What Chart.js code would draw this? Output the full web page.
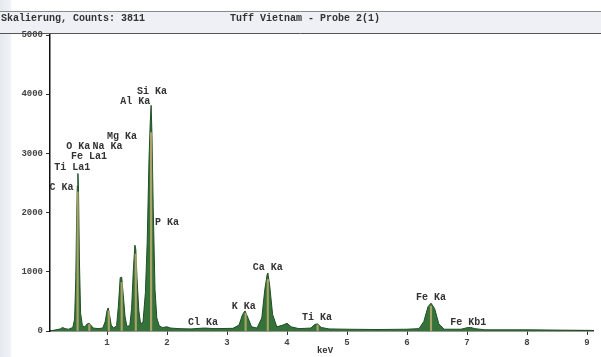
<!DOCTYPE html>
<html><head><meta charset="utf-8">
<script src="https://cdn.jsdelivr.net/npm/chart.js@4/dist/chart.umd.min.js"></script>
<style>
html,body{margin:0;padding:0;background:#fff;}
#wrap{position:relative;width:601px;height:357px;background:linear-gradient(to right,#e6eaf0 0,#eef1f5 10px,#fff 12px);}
canvas{position:absolute;left:0;top:0;}
</style></head><body>
<div id="wrap"><canvas id="c" width="601" height="357"></canvas></div>
<script>
const titleLeft = "Skalierung, Counts: 3811";
const titleCenter = "Tuff Vietnam - Probe 2(1)";
const xTitle = "keV";
const xTicks = [1,2,3,4,5,6,7,8,9];
const yTicks = [0,1000,2000,3000,4000,5000];
// spectrum: energy (keV) and counts
const energy = [0.05,0.15,0.22,0.26,0.30,0.36,0.43,0.46,0.48,0.495,0.505,0.515,0.525,0.54,0.56,0.59,0.63,0.67,0.70,0.73,0.77,0.85,0.93,0.97,1.00,1.02,1.04,1.07,1.11,1.16,1.19,1.22,1.245,1.27,1.30,1.33,1.38,1.41,1.44,1.465,1.48,1.50,1.53,1.56,1.60,1.64,1.67,1.70,1.72,1.735,1.75,1.77,1.80,1.83,1.87,1.92,2.00,2.06,2.20,2.40,2.62,2.80,3.10,3.20,3.26,3.30,3.35,3.41,3.50,3.58,3.63,3.67,3.68,3.71,3.76,3.83,3.93,4.00,4.07,4.20,4.40,4.46,4.51,4.57,4.70,5.00,5.50,6.00,6.20,6.28,6.35,6.40,6.46,6.53,6.62,6.90,7.00,7.06,7.13,7.30,8.00,8.50,9.10];
const counts = [0,20,35,60,40,30,60,200,900,2000,2450,2660,2400,1200,300,90,70,120,130,100,50,40,50,160,340,390,290,100,50,90,420,900,910,620,250,80,90,380,1050,1450,1380,900,350,120,150,650,1500,2900,3500,3811,3300,2100,700,220,90,60,70,50,40,35,50,40,45,100,280,340,220,70,50,220,700,960,980,780,280,70,100,130,70,40,50,110,120,60,35,30,25,30,40,160,410,470,380,120,30,30,55,60,40,20,20,15,10];
// peak marker lines (element lines)
const markerE = [0.51,0.705,1.03,1.245,1.48,1.735,3.31,3.68,4.51,6.40];
const markerC = [2350,110,340,820,1300,3350,300,870,100,420];
// peak labels
const peakLabels = ["Si Ka","Al Ka","Mg Ka","O Ka","Na Ka","Fe La1","Ti La1","C Ka","P Ka","Cl Ka","K Ka","Ca Ka","Ti Ka","Fe Ka","Fe Kb1"];
const labelE = [1.50,1.22,1.00,0.32,0.76,0.40,0.12,0.04,1.80,2.35,3.08,3.43,4.25,6.15,6.72];
const labelC = [4050,3870,3290,3120,3120,2940,2770,2420,1840,150,420,1080,220,570,140];

const MONO = "bold 10px 'Liberation Mono', 'DejaVu Sans Mono', monospace";
const decor = {
  id:'decor',
  beforeDraw(chart){
    const ctx = chart.ctx;
    ctx.save();
    ctx.fillStyle = '#eef0f6';
    ctx.fillRect(0,11,601,22);
    ctx.strokeStyle = '#8a8a8a';
    ctx.lineWidth = 1;
    ctx.beginPath(); ctx.moveTo(0,11.5); ctx.lineTo(601,11.5); ctx.stroke();
    ctx.strokeStyle = '#555';
    ctx.beginPath(); ctx.moveTo(0,33.5); ctx.lineTo(601,33.5); ctx.stroke();
    ctx.fillStyle = '#333';
    ctx.font = MONO;
    ctx.textBaseline = 'middle';
    ctx.textAlign = 'left';
    ctx.fillText(titleLeft, 1, 18);
    ctx.fillText(titleCenter, 230, 18);
    ctx.restore();
  },
  afterDraw(chart){
    const ctx = chart.ctx, xs = chart.scales.x, ys = chart.scales.y;
    ctx.save();
    ctx.fillStyle = '#333';
    ctx.font = MONO;
    ctx.textBaseline = 'middle';
    ctx.textAlign = 'left';
    peakLabels.forEach((t,i)=>{
      ctx.fillText(t, xs.getPixelForValue(labelE[i]), ys.getPixelForValue(labelC[i]));
    });
    ctx.font = "bold 9px 'Liberation Mono', monospace";
    ctx.textAlign = 'center';
    ctx.fillText(xTitle, 325, 351);
    ctx.restore();
  }
};

new Chart(document.getElementById('c'), {
  type:'line',
  data:{
    datasets:[
      {type:'bar', data: markerE.map((e,i)=>({x:e,y:markerC[i]})), backgroundColor:'rgba(190,172,110,0.85)', barThickness:1.5, order:0},
      {type:'line', data: energy.map((e,i)=>({x:e,y:counts[i]})), borderColor:'#1e4f25', borderWidth:1, backgroundColor:'#357239', fill:'origin', pointRadius:0, tension:0, order:1}
    ]
  },
  options:{
    responsive:false, animation:false,
    layout:{padding:{top:35,right:8,left:0,bottom:0}},
    plugins:{legend:{display:false}, tooltip:{enabled:false}},
    scales:{
      x:{type:'linear', min:0.05, max:9.1, offset:false,
        afterBuildTicks:s=>{s.ticks = xTicks.map(v=>({value:v}));},
        afterFit:s=>{s.height = 26;},
        grid:{drawOnChartArea:false, offset:false, tickLength:4, tickColor:'#333'},
        border:{color:'#333', width:1.5},
        ticks:{color:'#444', font:{family:"'Liberation Mono', monospace", size:9, weight:'bold'}, padding:2, maxRotation:0, callback:v=>String(v)}
      },
      y:{type:'linear', min:0, max:5000,
        afterBuildTicks:s=>{s.ticks = yTicks.map(v=>({value:v}));},
        afterFit:s=>{s.width = 50;},
        grid:{drawOnChartArea:false, tickLength:4, tickColor:'#333'},
        border:{color:'#111', width:1.5},
        ticks:{color:'#444', font:{family:"'Liberation Mono', monospace", size:9, weight:'bold'}, padding:3, callback:v=>String(v)}
      }
    }
  },
  plugins:[decor]
});
</script>
</body></html>
